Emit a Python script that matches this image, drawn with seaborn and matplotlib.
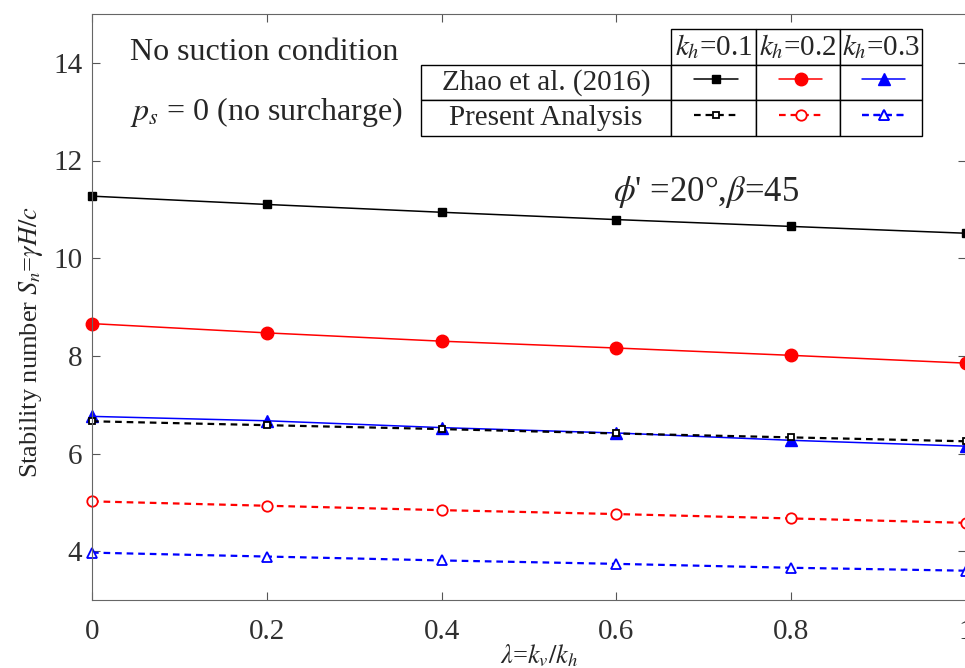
import matplotlib
matplotlib.use("Agg")
import matplotlib.pyplot as plt
import pandas as pd
import seaborn as sns

# values
lam = [0.0, 0.2, 0.4, 0.6, 0.8, 1.0]
zhao_01 = [11.27, 11.10, 10.94, 10.79, 10.65, 10.51]
zhao_02 = [8.66, 8.47, 8.30, 8.16, 8.01, 7.85]
zhao_03 = [6.76, 6.67, 6.53, 6.42, 6.27, 6.15]
pres_01 = [6.66, 6.58, 6.50, 6.41, 6.33, 6.25]
pres_02 = [5.02, 4.93, 4.84, 4.76, 4.67, 4.58]
pres_03 = [3.97, 3.89, 3.81, 3.74, 3.66, 3.60]
kh_labels = ["$k_h$=0.1", "$k_h$=0.2", "$k_h$=0.3"]
row_labels = ["Zhao et al. (2016)", "Present Analysis"]

sns.set_theme(style="ticks")
plt.rcParams["font.family"] = ["Liberation Serif", "DejaVu Serif"]
plt.rcParams["mathtext.fontset"] = "stix"

fig = plt.figure(figsize=(9.65, 6.68), dpi=100)
ax = fig.add_axes([92 / 965, 68 / 668, 874 / 965, 586 / 668])

series = [
    (zhao_01, "black", "s", "-", True),
    (zhao_02, "red", "o", "-", True),
    (zhao_03, "blue", "^", "-", True),
    (pres_01, "black", "s", "--", False),
    (pres_02, "red", "o", "--", False),
    (pres_03, "blue", "^", "--", False),
]
msize = {"s": 6, "o": 9, "^": 8}
lines = []
for vals, col, mk, ls, filled in series:
    df = pd.DataFrame({"x": lam, "y": vals})
    sns.lineplot(data=df, x="x", y="y", ax=ax, color=col, marker=mk,
                 markersize=msize[mk] if filled else msize[mk] - 1.5,
                 markerfacecolor=col if filled else "white",
                 markeredgecolor=col, markeredgewidth=1.0 if filled else 1.3,
                 linewidth=1.1 if filled else 1.6, clip_on=False)
    ln = ax.get_lines()[-1]
    if ls == "--":
        ln.set_dashes((3, 2.2))
    lines.append(ln)

ax.set_xlim(0, 1)
ax.set_ylim(3, 15)
ax.set_xticks([0, 0.2, 0.4, 0.6, 0.8, 1])
ax.set_xticklabels(["0", "0.2", "0.4", "0.6", "0.8", "1"])
ax.set_yticks([4, 6, 8, 10, 12, 14])
ax.tick_params(direction="in", top=True, right=True, length=6, width=0.8,
               colors="#555555", labelcolor="#303030", labelsize=21)
ax.tick_params(axis="x", pad=14)
ax.tick_params(axis="y", pad=7)
for sp in ax.spines.values():
    sp.set_color("#666666")
    sp.set_linewidth(0.8)

ax.set_xlabel("$\\lambda$=$k_v/k_h$", fontsize=19)
ax.xaxis.set_label_coords(0.512, -0.072)
ax.set_ylabel("Stability number $S_n$=$\\gamma H/c$", fontsize=19)
ax.yaxis.set_label_coords(-0.054, 0.44)

ax.text(0.0435, 0.935, "No suction condition", transform=ax.transAxes,
        fontsize=23, va="center", ha="left")
ax.text(0.0435, 0.833, "$p_s$ = 0 (no surcharge)", transform=ax.transAxes,
        fontsize=23, va="center", ha="left")
ax.text(0.596, 11.35, "$\\phi$' =20°,$\\beta$=45", fontsize=25,
        va="center", ha="left")

# table-style legend
x_edges = [421, 671, 756, 840, 922]
y_edges = [29, 63, 100, 136]
tx0 = (x_edges[0] - 92) / 874
tx1 = (x_edges[-1] - 92) / 874
ty0 = (600 - y_edges[-1]) / 586
ty1 = (600 - y_edges[0]) / 586
widths = [(x_edges[i + 1] - x_edges[i]) / (x_edges[-1] - x_edges[0]) for i in range(4)]
cell_text = [[""] + kh_labels,
             [row_labels[0], "", "", ""],
             [row_labels[1], "", "", ""]]
tab = ax.table(cellText=cell_text, colWidths=widths, cellLoc="center",
               bbox=[tx0, ty0, tx1 - tx0, ty1 - ty0], zorder=5)
tab.auto_set_font_size(False)
for (r, c), cell in tab.get_celld().items():
    cell.set_linewidth(1.0)
    cell.set_edgecolor("black")
    cell.get_text().set_fontsize(21)
    cell.get_text().set_family(["Liberation Serif", "DejaVu Serif"])
    cell.PAD = 0.02
    if r == 0 and c == 0:
        cell.visible_edges = ""
        cell.set_facecolor("none")

order = [[0, 1, 2], [3, 4, 5]]
for r in range(2):
    for c in range(3):
        cx = ((x_edges[c + 1] + x_edges[c + 2]) / 2 - 92) / 874
        cy = (600 - (y_edges[r + 1] + y_edges[r + 2]) / 2) / 586
        leg = ax.legend(handles=[lines[order[r][c]]], labels=[""],
                        loc="center", bbox_to_anchor=(cx + 0.003, cy),
                        frameon=False, handlelength=2.1, handletextpad=0,
                        borderpad=0, borderaxespad=0, fontsize=15)
        leg.set_zorder(6)
        ax.add_artist(leg)

fig.savefig("out.png", dpi=100)
